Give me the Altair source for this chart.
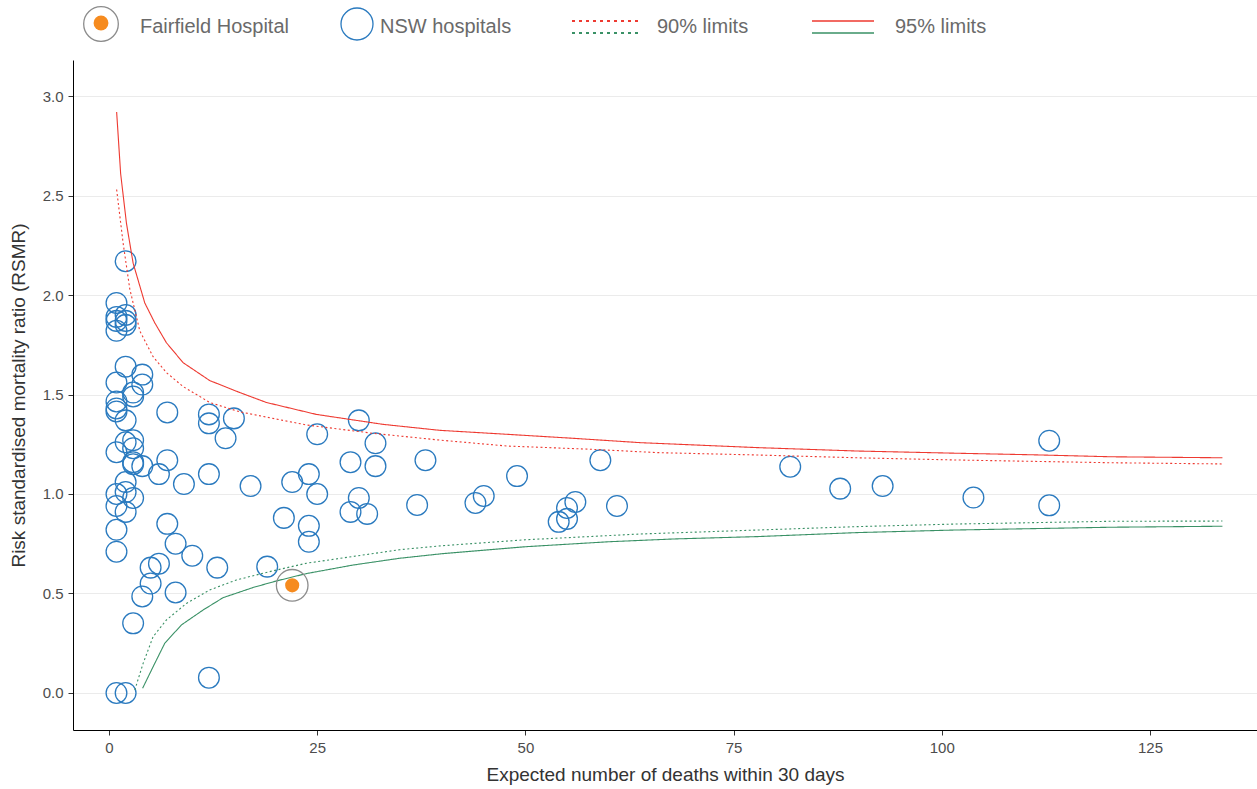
import altair as alt
import pandas as pd

# Expected deaths within 30 days and RSMR for each NSW hospital
nsw_expected = [
    0.9, 0.9, 0.9, 0.9, 0.9, 0.9, 0.9, 0.9, 0.9, 0.9, 0.9, 0.9, 0.9, 0.9,
    2.0, 2.0, 2.0, 2.0, 2.0, 2.0, 2.0, 2.0, 2.0, 2.0, 2.0,
    2.9, 2.9, 2.9, 2.9, 2.9, 2.9, 2.9, 2.9,
    4.0, 4.0, 4.0, 4.0,
    5.0, 5.0, 6.0, 6.0, 7.0, 7.0, 7.0, 8.0, 8.0, 9.0, 10.0,
    12.0, 12.0, 12.0, 12.0, 13.0, 14.0, 15.0, 17.0, 19.0, 21.0, 22.0,
    24.0, 24.0, 24.0, 25.0, 25.0, 29.0, 29.0, 30.0, 30.0, 31.0, 32.0, 32.0,
    37.0, 38.0, 44.0, 45.0, 49.0, 54.0, 55.0, 55.0, 56.0, 59.0, 61.0,
    81.8, 87.8, 92.9, 103.8, 112.9, 112.9,
]
nsw_rsmr = [
    1.96, 1.89, 1.87, 1.82, 1.56, 1.465, 1.43, 1.415, 1.21, 1.00, 0.94, 0.82, 0.71, 0.0,
    2.17, 1.90, 1.87, 1.85, 1.64, 1.37, 1.26, 1.06, 1.01, 0.91, 0.0,
    1.51, 1.49, 1.27, 1.23, 1.16, 1.15, 0.98, 0.35,
    1.60, 1.55, 1.14, 0.485,
    0.63, 0.55, 1.10, 0.65, 1.41, 1.17, 0.85, 0.75, 0.505, 1.05, 0.69,
    1.40, 1.355, 1.10, 0.077, 0.63, 1.28, 1.38, 1.04, 0.635, 0.88, 1.06,
    1.10, 0.84, 0.76, 1.30, 1.00, 1.16, 0.91, 1.37, 0.98, 0.90, 1.255, 1.14,
    0.945, 1.17, 0.955, 0.99, 1.09, 0.86, 0.93, 0.875, 0.96, 1.17, 0.94,
    1.137, 1.027, 1.04, 0.982, 1.268, 0.943,
]

# Fairfield Hospital
fairfield_expected = [22.0]
fairfield_rsmr = [0.541]

# Control limits (funnel)
upper95_x = [0.92, 1.4, 2.1, 2.9, 4.3, 5.5, 6.9, 8.9, 12.1, 15.7, 18.9, 24.9, 32.9,
             39.7, 47.8, 55.7, 63.8, 77.9, 89.8, 101.6, 111.0, 120.4, 133.7]
upper95_y = [2.92, 2.61, 2.36, 2.16, 1.96, 1.86, 1.76, 1.66, 1.57, 1.51, 1.46, 1.40, 1.35,
             1.32, 1.30, 1.28, 1.258, 1.233, 1.216, 1.205, 1.197, 1.187, 1.182]

upper90_x = [0.92, 1.7, 2.5, 3.7, 5.3, 6.9, 8.9, 12.1, 15.7, 23.7, 31.7, 39.7, 47.8,
             57.8, 65.8, 77.9, 89.8, 101.6, 111.0, 120.4, 133.7]
upper90_y = [2.53, 2.26, 2.03, 1.82, 1.69, 1.61, 1.54, 1.46, 1.413, 1.347, 1.305, 1.271, 1.241,
             1.225, 1.208, 1.196, 1.182, 1.171, 1.164, 1.157, 1.151]

lower95_x = [4.04, 5.3, 6.7, 8.7, 11.3, 13.7, 17.3, 20.1, 23.7, 29.3, 34.9, 40.0, 50.0,
             60.0, 67.8, 77.9, 89.8, 101.6, 111.0, 120.4, 133.7]
lower95_y = [0.024, 0.132, 0.25, 0.342, 0.417, 0.479, 0.53, 0.563, 0.60, 0.643, 0.677, 0.70, 0.735,
             0.76, 0.774, 0.786, 0.806, 0.819, 0.826, 0.833, 0.838]

lower90_x = [3.1, 4.1, 5.3, 6.9, 9.3, 12.1, 15.3, 19.3, 23.7, 29.3, 34.9, 40.0, 50.0,
             63.8, 77.9, 89.8, 101.6, 111.0, 120.4, 133.7]
lower90_y = [0.015, 0.149, 0.283, 0.367, 0.45, 0.518, 0.568, 0.61, 0.652, 0.686, 0.72, 0.74, 0.77,
             0.799, 0.819, 0.836, 0.849, 0.856, 0.863, 0.864]

x_ticks = [0, 25, 50, 75, 100, 125]
y_ticks = [0.0, 0.5, 1.0, 1.5, 2.0, 2.5, 3.0]

RED = "#ee3a31"
GREEN = "#3a9166"
BLUE = "#2a7abf"
ORANGE = "#f68b1f"
RING = "#8c8c8c"
FONT = "Liberation Sans"

W, H = 1184, 670
xs = alt.Scale(domain=[-4.32, 137.85], nice=False, zero=False)
ys = alt.Scale(domain=[-0.186, 3.181], nice=False, zero=False)

x_axis = alt.Axis(values=x_ticks, title="Expected number of deaths within 30 days",
                  grid=False, tickSize=5, labelPadding=5, titlePadding=10)
y_axis = alt.Axis(values=y_ticks, format=".1f", title="Risk standardised mortality ratio (RSMR)",
                  grid=True, tickSize=5, labelPadding=5, titlePadding=14)

hosp_df = pd.DataFrame({"expected": nsw_expected, "rsmr": nsw_rsmr})
fair_df = pd.DataFrame({"expected": fairfield_expected, "rsmr": fairfield_rsmr})


def limit_line(xv, yv, color, dash):
    df = pd.DataFrame({"expected": xv, "rsmr": yv})
    mark = alt.Chart(df).mark_line(color=color, strokeWidth=1.1, strokeDash=dash)
    return mark.encode(
        x=alt.X("expected:Q", scale=xs, axis=x_axis),
        y=alt.Y("rsmr:Q", scale=ys, axis=y_axis),
        order="expected:Q",
    )


hospitals = alt.Chart(hosp_df).mark_point(
    shape="circle", filled=False, size=430, strokeWidth=1.3, color=BLUE, opacity=1
).encode(
    x=alt.X("expected:Q", scale=xs, axis=x_axis),
    y=alt.Y("rsmr:Q", scale=ys, axis=y_axis),
)

fair_ring = alt.Chart(fair_df).mark_point(
    shape="circle", filled=False, size=1000, strokeWidth=1.3, color=RING, opacity=1
).encode(x=alt.X("expected:Q", scale=xs), y=alt.Y("rsmr:Q", scale=ys))

fair_dot = alt.Chart(fair_df).mark_point(
    shape="circle", filled=True, size=200, color=ORANGE, opacity=1
).encode(x=alt.X("expected:Q", scale=xs), y=alt.Y("rsmr:Q", scale=ys))

lines = [
    limit_line(upper95_x, upper95_y, RED, [1, 0]),
    limit_line(upper90_x, upper90_y, RED, [2, 2.5]),
    limit_line(lower95_x, lower95_y, GREEN, [1, 0]),
    limit_line(lower90_x, lower90_y, GREEN, [2, 2.5]),
]

# Legend row above the plot
one = pd.DataFrame({"k": [0]})


def key_symbol(cx, cy, size, color, filled):
    return alt.Chart(one).mark_point(
        shape="circle", filled=filled, size=size, color=color,
        strokeWidth=1.3, opacity=1, clip=False
    ).encode(x=alt.value(cx), y=alt.value(cy))


def key_rule(x1, x2, yy, color, dash, width):
    return alt.Chart(one).mark_rule(
        color=color, strokeDash=dash, strokeWidth=width, clip=False
    ).encode(x=alt.value(x1), x2=alt.value(x2), y=alt.value(yy))


def key_text(tx, ty, label):
    return alt.Chart(one).mark_text(
        align="left", baseline="middle", font=FONT, fontSize=20, color="#6a6a6a", clip=False
    ).encode(x=alt.value(tx), y=alt.value(ty), text=alt.value(label))


legend = [
    key_symbol(28, -36, 1200, RING, False),
    key_symbol(28, -37, 220, ORANGE, True),
    key_text(67, -33, "Fairfield Hospital"),
    key_symbol(284, -36, 1024, BLUE, False),
    key_text(307, -33, "NSW hospitals"),
    key_rule(499, 565, -39, RED, [3, 4], 2),
    key_rule(499, 565, -27, GREEN, [3, 4], 2),
    key_text(584, -33, "90% limits"),
    key_rule(739, 801, -39, RED, [1, 0], 1.3),
    key_rule(739, 801, -27, GREEN, [1, 0], 1.3),
    key_text(822, -33, "95% limits"),
]

chart = alt.layer(hospitals, *lines, fair_ring, fair_dot, *legend).properties(
    width=W,
    height=H,
    padding={"left": 73, "top": 60, "right": 0, "bottom": 59},
    autosize=alt.AutoSizeParams(type="none"),
).configure_view(
    stroke=None
).configure_axis(
    labelFont=FONT,
    titleFont=FONT,
    labelFontSize=15,
    titleFontSize=19,
    titleFontWeight="normal",
    labelColor="#4d4d4d",
    titleColor="#333333",
    domainColor="#000000",
    domainWidth=1,
    tickColor="#333333",
    gridColor="#ebebeb",
    gridWidth=1,
)

chart.save("out.html", embed_options={"renderer": "svg", "actions": False})
